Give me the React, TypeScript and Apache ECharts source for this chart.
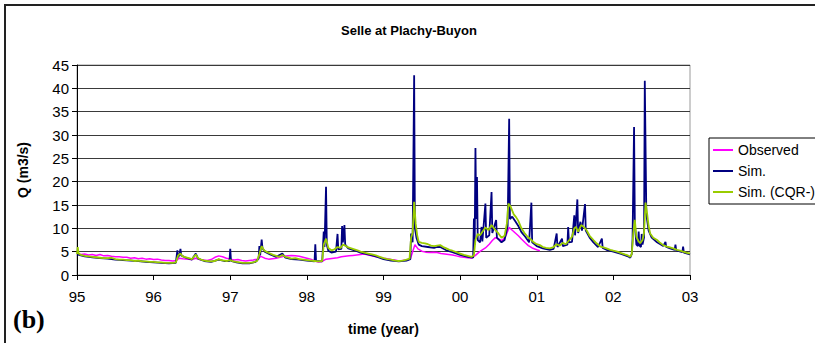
import React, { useEffect, useRef } from "react";
import * as echarts from "echarts";

const title = "Selle at Plachy-Buyon";
const seriesNames = ["Observed", "Sim.", "Sim. (CQR-)"];
const seriesColors = ["#FF00FF", "#000080", "#99CC00"];
const seriesWidths = [1.5, 1.8, 1.8];

// [year, Q m3/s]
const observed: number[][] = [
  [95.0, 4.6], [95.05, 4.4], [95.1, 4.5], [95.15, 4.3], [95.2, 4.4], [95.25, 4.2], [95.3, 4.4], [95.35, 4.1],
  [95.4, 4.2], [95.45, 4.0], [95.5, 3.9], [95.55, 3.9], [95.6, 3.8], [95.65, 3.8], [95.7, 3.6], [95.75, 3.7],
  [95.8, 3.5], [95.85, 3.6], [95.9, 3.4], [95.95, 3.5], [96.0, 3.3], [96.05, 3.4], [96.1, 3.2], [96.15, 3.1],
  [96.2, 3.1], [96.25, 3.0], [96.3, 3.1], [96.33, 3.6], [96.38, 3.5], [96.45, 3.4], [96.5, 3.3], [96.55, 3.6],
  [96.6, 3.3], [96.65, 3.2], [96.7, 3.1], [96.75, 3.3], [96.8, 3.8], [96.85, 4.1], [96.9, 3.9], [96.95, 3.6],
  [97.0, 3.4], [97.05, 3.2], [97.1, 3.3], [97.15, 3.1], [97.2, 3.0], [97.25, 3.1], [97.3, 3.2], [97.35, 3.4],
  [97.4, 4.0], [97.45, 3.6], [97.5, 3.4], [97.55, 3.5], [97.6, 3.6], [97.65, 3.8], [97.7, 4.0], [97.75, 4.1],
  [97.8, 4.2], [97.85, 4.1], [97.9, 4.0], [97.95, 3.8], [98.0, 3.6], [98.05, 3.4], [98.1, 3.0], [98.15, 2.8],
  [98.2, 2.9], [98.25, 3.4], [98.3, 3.5], [98.35, 3.6], [98.4, 3.7], [98.45, 3.9], [98.5, 4.0], [98.55, 4.1],
  [98.6, 4.2], [98.65, 4.3], [98.7, 4.4], [98.75, 4.5], [98.8, 4.3], [98.85, 4.1], [98.9, 3.9], [98.95, 3.8],
  [99.0, 3.6], [99.05, 3.5], [99.1, 3.3], [99.15, 3.2], [99.2, 3.0], [99.25, 3.1], [99.3, 3.2], [99.35, 3.4],
  [99.38, 5.0], [99.41, 6.5], [99.45, 5.6], [99.5, 5.1], [99.55, 4.9], [99.6, 4.8], [99.65, 4.9], [99.7, 4.8],
  [99.75, 4.6], [99.8, 4.5], [99.85, 4.4], [99.9, 4.3], [99.95, 4.1], [100.0, 3.9], [100.05, 3.8], [100.1, 3.7],
  [100.15, 3.6], [100.2, 4.2], [100.24, 4.8], [100.28, 5.3], [100.33, 5.8], [100.38, 6.6], [100.42, 7.4],
  [100.46, 8.0], [100.5, 7.7], [100.55, 7.4], [100.6, 8.5], [100.64, 10.2], [100.68, 9.6], [100.72, 9.0],
  [100.76, 8.4], [100.8, 7.7], [100.85, 6.9], [100.89, 6.3], [100.94, 5.8], [101.0, 5.4], [101.04, 5.2],
];

const sim: number[][] = [
  [95.0, 4.4], [95.05, 4.2], [95.1, 4.0], [95.2, 3.8], [95.3, 3.6], [95.4, 3.5], [95.5, 3.3], [95.6, 3.2],
  [95.7, 3.1], [95.8, 3.0], [95.9, 2.8], [96.0, 2.7], [96.1, 2.6], [96.2, 2.5], [96.29, 2.6], [96.31, 5.3],
  [96.32, 3.8], [96.34, 4.5], [96.35, 5.6], [96.36, 4.2], [96.42, 3.7], [96.5, 3.3], [96.55, 4.6], [96.58, 3.5],
  [96.66, 3.0], [96.75, 2.8], [96.85, 3.3], [96.92, 3.0], [96.99, 3.0], [97.0, 5.6], [97.01, 3.0], [97.08, 2.7],
  [97.16, 2.5], [97.25, 2.5], [97.33, 2.8], [97.37, 3.5], [97.38, 6.2], [97.39, 4.2], [97.41, 7.6], [97.42, 5.8],
  [97.45, 5.0], [97.52, 4.4], [97.6, 3.9], [97.68, 4.6], [97.72, 3.7], [97.8, 3.4], [97.9, 3.3], [98.0, 3.1],
  [98.1, 2.9], [98.11, 6.6], [98.12, 3.0], [98.2, 2.9], [98.21, 6.0], [98.22, 9.3], [98.23, 6.0], [98.25, 18.9],
  [98.26, 6.5], [98.28, 5.2], [98.32, 4.8], [98.38, 5.0], [98.4, 8.8], [98.41, 5.5], [98.45, 5.6], [98.46, 10.5],
  [98.47, 7.0], [98.49, 10.7], [98.5, 6.5], [98.54, 5.7], [98.62, 5.3], [98.7, 4.8], [98.8, 4.4], [98.9, 4.0],
  [99.0, 3.4], [99.1, 3.1], [99.2, 2.9], [99.3, 3.1], [99.35, 3.4], [99.36, 8.9], [99.38, 7.0], [99.4, 42.8],
  [99.41, 10.0], [99.43, 8.0], [99.46, 6.5], [99.5, 6.2], [99.58, 6.0], [99.66, 5.8], [99.7, 6.0], [99.74, 6.0],
  [99.82, 5.3], [99.9, 4.9], [100.0, 4.3], [100.1, 3.9], [100.17, 3.7], [100.18, 12.1], [100.19, 6.5],
  [100.2, 27.2], [100.21, 12.0], [100.22, 21.0], [100.23, 7.5], [100.26, 7.0], [100.28, 10.3], [100.29, 7.2],
  [100.33, 15.3], [100.34, 8.0], [100.38, 8.5], [100.41, 17.8], [100.42, 9.0], [100.47, 11.8], [100.48, 8.0],
  [100.54, 7.0], [100.58, 7.5], [100.62, 10.5], [100.64, 33.5], [100.65, 12.0], [100.68, 12.5], [100.72, 11.5],
  [100.76, 10.5], [100.8, 9.2], [100.85, 8.2], [100.9, 7.0], [100.93, 15.5], [100.94, 7.0], [101.0, 6.2],
  [101.08, 5.7], [101.17, 5.4], [101.22, 5.6], [101.26, 8.9], [101.27, 6.0], [101.33, 7.8], [101.34, 6.2],
  [101.4, 6.5], [101.41, 10.3], [101.42, 7.0], [101.46, 7.1], [101.49, 12.8], [101.5, 8.5], [101.53, 16.2],
  [101.54, 9.0], [101.57, 11.4], [101.59, 9.5], [101.63, 15.2], [101.64, 9.5], [101.69, 8.0], [101.74, 7.0],
  [101.8, 6.0], [101.85, 7.8], [101.86, 5.8], [101.91, 5.4], [102.0, 5.0], [102.1, 4.5], [102.19, 4.0],
  [102.22, 3.7], [102.24, 4.5], [102.25, 7.5], [102.27, 31.7], [102.28, 11.0], [102.3, 6.5], [102.32, 6.2],
  [102.33, 9.3], [102.34, 6.3], [102.36, 6.0], [102.37, 8.8], [102.38, 6.5], [102.4, 8.0], [102.41, 41.6],
  [102.43, 13.0], [102.46, 9.5], [102.5, 8.0], [102.57, 7.0], [102.65, 6.2], [102.68, 7.1], [102.69, 6.0],
  [102.74, 5.7], [102.8, 5.4], [102.81, 6.5], [102.82, 5.3], [102.9, 4.9], [102.91, 6.1], [102.92, 4.8],
  [103.0, 4.4],
];

const simCqr: number[][] = [
  [95.0, 4.5], [95.01, 6.0], [95.02, 4.6], [95.05, 4.3], [95.1, 4.1], [95.15, 4.0], [95.2, 3.9], [95.25, 3.8],
  [95.3, 3.7], [95.35, 3.6], [95.4, 3.6], [95.45, 3.7], [95.5, 3.4], [95.55, 3.3], [95.6, 3.3], [95.65, 3.2],
  [95.7, 3.2], [95.75, 3.0], [95.8, 3.1], [95.85, 2.9], [95.9, 2.9], [95.95, 2.8], [96.0, 2.8], [96.05, 2.7],
  [96.1, 2.7], [96.15, 2.6], [96.2, 2.6], [96.25, 2.6], [96.29, 2.7], [96.32, 4.2], [96.35, 4.6], [96.38, 4.0],
  [96.42, 3.8], [96.46, 3.6], [96.5, 3.4], [96.55, 4.4], [96.58, 3.6], [96.62, 3.3], [96.66, 3.1], [96.7, 3.0],
  [96.75, 2.9], [96.8, 3.0], [96.85, 3.4], [96.88, 3.2], [96.92, 3.1], [96.96, 3.0], [97.0, 3.2], [97.04, 2.9],
  [97.08, 2.8], [97.12, 2.7], [97.16, 2.6], [97.2, 2.6], [97.25, 2.6], [97.3, 2.7], [97.35, 3.0], [97.38, 4.5],
  [97.41, 6.2], [97.44, 5.3], [97.48, 4.9], [97.52, 4.6], [97.56, 4.3], [97.6, 4.1], [97.64, 3.9], [97.68, 4.3],
  [97.72, 3.9], [97.76, 3.7], [97.8, 3.5], [97.85, 3.6], [97.9, 3.4], [97.95, 3.3], [98.0, 3.2], [98.05, 3.1],
  [98.1, 3.0], [98.15, 2.9], [98.2, 3.0], [98.22, 6.5], [98.25, 7.8], [98.28, 5.8], [98.32, 5.3], [98.36, 5.5],
  [98.4, 6.0], [98.44, 5.8], [98.47, 6.5], [98.5, 6.3], [98.54, 5.9], [98.58, 5.7], [98.62, 5.5], [98.66, 5.3],
  [98.7, 5.0], [98.75, 4.8], [98.8, 4.6], [98.85, 4.4], [98.9, 4.2], [98.95, 3.9], [99.0, 3.6], [99.05, 3.4],
  [99.1, 3.3], [99.15, 3.1], [99.2, 3.0], [99.25, 3.1], [99.3, 3.3], [99.34, 3.5], [99.36, 8.0], [99.38, 9.0],
  [99.4, 15.7], [99.42, 11.0], [99.44, 8.5], [99.46, 7.1], [99.5, 6.9], [99.54, 6.8], [99.58, 6.6], [99.62, 6.3],
  [99.66, 6.2], [99.7, 6.3], [99.74, 6.4], [99.78, 6.0], [99.82, 5.7], [99.86, 5.4], [99.9, 5.2], [99.95, 4.9],
  [100.0, 4.6], [100.05, 4.3], [100.1, 4.1], [100.15, 3.9], [100.18, 4.2], [100.2, 7.5], [100.23, 8.8],
  [100.26, 8.5], [100.3, 9.5], [100.33, 10.2], [100.37, 9.6], [100.41, 10.7], [100.45, 9.8], [100.5, 8.9],
  [100.54, 8.0], [100.58, 8.4], [100.61, 11.0], [100.63, 15.3], [100.66, 14.6], [100.7, 13.0], [100.73, 12.4],
  [100.76, 11.6], [100.8, 10.0], [100.84, 9.0], [100.88, 8.2], [100.93, 7.5], [100.96, 7.0], [101.0, 6.6],
  [101.04, 6.4], [101.08, 6.0], [101.12, 5.8], [101.17, 5.7], [101.21, 5.9], [101.26, 6.6], [101.3, 6.3],
  [101.34, 6.9], [101.38, 6.6], [101.42, 7.4], [101.46, 8.2], [101.49, 10.0], [101.51, 10.3], [101.54, 9.3],
  [101.58, 10.7], [101.62, 10.2], [101.65, 9.6], [101.69, 8.4], [101.74, 7.5], [101.78, 6.8], [101.83, 6.1],
  [101.87, 5.9], [101.91, 5.7], [101.96, 5.4], [102.0, 5.2], [102.05, 5.0], [102.1, 4.7], [102.15, 4.4],
  [102.19, 4.2], [102.22, 3.9], [102.24, 4.5], [102.26, 9.0], [102.28, 11.8], [102.3, 8.2], [102.33, 7.2],
  [102.35, 6.8], [102.38, 7.5], [102.4, 9.0], [102.42, 15.5], [102.44, 13.2], [102.46, 10.5], [102.48, 8.9],
  [102.52, 8.0], [102.57, 7.5], [102.61, 6.9], [102.65, 6.4], [102.7, 6.1], [102.74, 5.9], [102.78, 5.7],
  [102.83, 5.4], [102.87, 5.2], [102.91, 5.0], [102.95, 4.8], [103.0, 4.6],
];

const seriesData = [observed, sim, simCqr];

export default function App() {
  const ref = useRef<HTMLDivElement>(null);
  useEffect(() => {
    if (!ref.current) return;
    const chart = echarts.init(ref.current, null, { renderer: "svg" });
    const font = "'Liberation Sans', Arial, sans-serif";
    chart.setOption({
      animation: false,
      backgroundColor: "#ffffff",
      title: {
        text: title,
        left: 404,
        textAlign: "center",
        top: 19,
        textStyle: { fontFamily: font, fontSize: 13, fontWeight: "bold", color: "#000" },
      },
      legend: {
        orient: "vertical",
        left: 709,
        top: 138,
        data: seriesNames,
        icon: "rect",
        itemWidth: 20,
        itemHeight: 2,
        itemGap: 7,
        padding: [5, 4, 5, 4],
        borderColor: "#000",
        borderWidth: 1,
        backgroundColor: "#fff",
        textStyle: { fontFamily: font, fontSize: 14, color: "#000" },
      },
      grid: {
        left: 77,
        right: 125,
        top: 65,
        bottom: 68,
        show: true,
        borderColor: "#9a9a9a",
        borderWidth: 1,
        backgroundColor: "transparent",
      },
      xAxis: {
        type: "value",
        min: 95,
        max: 103,
        interval: 1,
        name: "time (year)",
        nameLocation: "middle",
        nameGap: 47,
        nameTextStyle: { fontFamily: font, fontSize: 14, fontWeight: "bold", color: "#000" },
        axisLine: { lineStyle: { color: "#000", width: 1 } },
        axisTick: { show: true, length: 5, lineStyle: { color: "#000" } },
        axisLabel: {
          fontFamily: font,
          fontSize: 15,
          color: "#000",
          margin: 14,
          formatter: (v: number) => String(Math.round(v) % 100).padStart(2, "0"),
        },
        splitLine: { show: false },
      },
      yAxis: {
        type: "value",
        min: 0,
        max: 45,
        interval: 5,
        name: "Q (m3/s)",
        nameLocation: "middle",
        nameGap: 47,
        nameTextStyle: { fontFamily: font, fontSize: 14, fontWeight: "bold", color: "#000" },
        axisLine: { show: true, lineStyle: { color: "#000", width: 1 } },
        axisTick: { show: true, length: 5, lineStyle: { color: "#000" } },
        axisLabel: { fontFamily: font, fontSize: 15, color: "#000", margin: 8 },
        splitLine: { show: true, lineStyle: { color: "#3a3a3a", width: 1.2 } },
      },
      graphic: [
        {
          type: "rect",
          shape: { x: 5, y: 5, width: 830, height: 360 },
          style: { fill: "none", stroke: "#222", lineWidth: 2 },
          silent: true,
          z: -1,
        },
        {
          type: "text",
          left: 13,
          top: 306,
          style: {
            text: "(b)",
            fontFamily: "'Liberation Serif', 'Times New Roman', serif",
            fontSize: 26,
            fontWeight: "bold",
            fill: "#000",
          },
        },
      ],
      series: seriesNames.map((name, i) => ({
        name,
        type: "line",
        data: seriesData[i],
        showSymbol: false,
        symbol: "none",
        color: seriesColors[i],
        lineStyle: { color: seriesColors[i], width: seriesWidths[i] },
        z: 2 + i,
      })),
    });
    return () => chart.dispose();
  }, []);
  return (
    <div
      ref={ref}
      style={{ position: "fixed", left: 0, top: 0, width: 815, height: 343, background: "#fff" }}
    />
  );
}
